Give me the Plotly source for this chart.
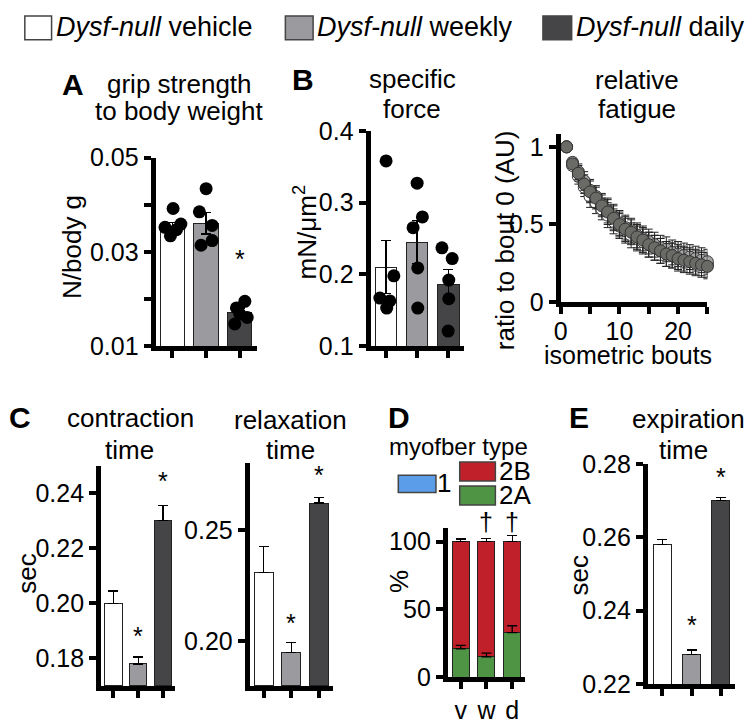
import plotly.graph_objects as go

W, H = 747, 724
FONT = "Liberation Sans, Arial, sans-serif"

# ---- data ----
groups = ["vehicle", "weekly", "daily"]
bar_colors = ["#ffffff", "#9b9b9f", "#454547"]

grip_mean = [0.0351, 0.0361, 0.0171]
grip_sem = [0.0012, 0.0023, 0.0010]
grip_pts = [[0.0392, 0.0359, 0.0352, 0.0334, 0.0347],
            [0.0434, 0.0385, 0.0356, 0.0314, 0.0324],
            [0.0195, 0.0181, 0.0161, 0.0147, 0.0168]]

force_mean = [0.210, 0.245, 0.186]
force_sem = [0.037, 0.030, 0.021]
force_pts = [[0.358, 0.198, 0.167, 0.163, 0.153],
             [0.327, 0.280, 0.265, 0.209, 0.153],
             [0.237, 0.222, 0.192, 0.166, 0.121]]

bouts = list(range(1, 26))
fat_vehicle = [1.0, 0.88, 0.81, 0.74, 0.68, 0.64, 0.60, 0.56, 0.52, 0.49, 0.46, 0.43, 0.41,
               0.39, 0.37, 0.35, 0.33, 0.31, 0.30, 0.29, 0.28, 0.27, 0.26, 0.25, 0.24]
fat_weekly = [1.0, 0.90, 0.84, 0.78, 0.72, 0.68, 0.63, 0.59, 0.55, 0.51, 0.48, 0.46, 0.43,
              0.41, 0.39, 0.37, 0.35, 0.34, 0.32, 0.31, 0.30, 0.29, 0.28, 0.27, 0.26]
fat_daily = [1.0, 0.89, 0.83, 0.76, 0.71, 0.67, 0.62, 0.58, 0.54, 0.50, 0.47, 0.45, 0.42,
             0.40, 0.37, 0.35, 0.33, 0.31, 0.30, 0.28, 0.27, 0.26, 0.25, 0.24, 0.23]
fat_err = [0.0, 0.03, 0.05, 0.06, 0.07, 0.07, 0.07, 0.08, 0.08, 0.08, 0.08, 0.08, 0.08,
           0.08, 0.08, 0.08, 0.08, 0.08, 0.08, 0.08, 0.08, 0.08, 0.08, 0.08, 0.08]

contr_mean = [0.200, 0.178, 0.230]
contr_err = [0.0045, 0.0025, 0.0055]
relax_mean = [0.231, 0.195, 0.262]
relax_err = [0.0115, 0.0045, 0.0025]
expir_mean = [0.258, 0.228, 0.270]
expir_err = [0.0014, 0.0013, 0.0009]

fiber_labels = ["v", "w", "d"]
fiber_1 = [0, 0, 0]
fiber_2A = [21, 15, 33]
fiber_2A_err = [2.5, 2.8, 5.0]
fiber_2B = [79, 85, 67]
fiber_2B_err = [1.8, 2.2, 4.5]

jitter = [[0.02, 0.25, -0.22, -0.06, 0.12],
          [0.0, -0.2, 0.18, -0.15, 0.18],
          [0.15, -0.1, 0.22, -0.15, 0.0]]
force_jitter = [[0.0, 0.25, -0.2, 0.12, 0.02],
                [0.0, 0.17, -0.13, 0.02, 0.02],
                [-0.2, 0.13, 0.02, 0.02, 0.0]]


def dx(a, b):
    return [a / W, b / W]


def dy(top, bottom):
    return [1 - bottom / H, 1 - top / H]


fig = go.Figure()
layout = {}
TICK = dict(ticks="outside", ticklen=7, tickwidth=4, tickcolor="black")


def axis_style(**kw):
    d = dict(showline=True, linewidth=5, linecolor="black", showgrid=False,
             zeroline=False, tickfont=dict(size=25, family=FONT, color="black"), **TICK)
    d.update(kw)
    return d


def add_axes(n, xdom, ydom, yrange, ytickvals, yminor=None, xrange=(-0.5, 2.5),
             xtickvals=(0, 1, 2), xticktext=None, xminor=None, **xkw):
    xs = "xaxis" if n == 1 else "xaxis%d" % n
    ys = "yaxis" if n == 1 else "yaxis%d" % n
    xax = axis_style(domain=xdom, range=list(xrange), anchor="y" if n == 1 else "y%d" % n,
                     tickvals=list(xtickvals), **xkw)
    if xticktext:
        xax["ticktext"] = xticktext
    else:
        xax["showticklabels"] = False
    if xminor:
        xax["minor"] = dict(tickvals=xminor, **TICK)
    yax = axis_style(domain=ydom, range=list(yrange), anchor="x" if n == 1 else "x%d" % n,
                     tickvals=[v for v, _ in ytickvals], ticktext=[t for _, t in ytickvals])
    if yminor:
        yax["minor"] = dict(tickvals=yminor, **TICK)
    layout[xs] = xax
    layout[ys] = yax
    return ("x" if n == 1 else "x%d" % n), ("y" if n == 1 else "y%d" % n)


def bar_panel(n, xdom, ydom, yrange, yticks, means, err, width, symmetric=False, yminor=None):
    xa, ya = add_axes(n, xdom, ydom, yrange, yticks, yminor=yminor)
    ey = dict(type="data", array=err, color="black", thickness=1.3, width=5)
    if not symmetric:
        ey.update(symmetric=False, arrayminus=[0, 0, 0])
    fig.add_trace(go.Bar(x=[0, 1, 2], y=[m - yrange[0] for m in means], base=yrange[0],
                         width=width, marker=dict(color=bar_colors, line=dict(color="#222", width=1)),
                         error_y=ey, xaxis=xa, yaxis=ya, showlegend=False))
    return xa, ya


# A grip strength
xa, ya = bar_panel(1, dx(150, 252), dy(150, 347), [0.01, 0.05],
                   [(0.01, "0.01"), (0.03, "0.03"), (0.05, "0.05")],
                   grip_mean, grip_sem, 0.72, symmetric=True, yminor=[0.02, 0.04])
for i in range(3):
    fig.add_trace(go.Scatter(x=[i + j for j in jitter[i]], y=grip_pts[i], mode="markers",
                             marker=dict(color="black", size=13), cliponaxis=False,
                             xaxis=xa, yaxis=ya, showlegend=False))

# B specific force
xb, yb = bar_panel(2, dx(367, 461), dy(122, 347), [0.1, 0.4],
                   [(0.1, "0.1"), (0.2, "0.2"), (0.3, "0.3"), (0.4, "0.4")],
                   force_mean, force_sem, 0.7, symmetric=True)
for i in range(3):
    fig.add_trace(go.Scatter(x=[i + j for j in force_jitter[i]], y=force_pts[i], mode="markers",
                             marker=dict(color="black", size=13), cliponaxis=False,
                             xaxis=xb, yaxis=yb, showlegend=False))

# relative fatigue
xf, yf = add_axes(3, dx(559, 707), dy(125, 301), [0, 1.085], [(0, "0"), (0.5, "0.5"), (1, "1")],
                  xrange=(0, 25), xtickvals=(0, 10, 20), xticktext=["0", "10", "20"],
                  xminor=[5, 15, 25], ticklabelstandoff=-4)
for vals, col in [(fat_vehicle, "#ffffff"), (fat_weekly, "#a5a5a5"), (fat_daily, "#6a6a66")]:
    fig.add_trace(go.Scatter(x=bouts, y=vals, mode="markers", cliponaxis=False,
                             marker=dict(color=col, size=12, line=dict(color="#333", width=1)),
                             error_y=dict(type="data", array=fat_err, color="#222", thickness=1, width=4),
                             xaxis=xf, yaxis=yf, showlegend=False))

# C contraction / relaxation
xc, yc = bar_panel(4, dx(95, 170), dy(472, 702), [0.17, 0.25],
                   [(0.18, "0.18"), (0.20, "0.20"), (0.22, "0.22"), (0.24, "0.24")],
                   contr_mean, contr_err, 0.7)
xr, yr = bar_panel(5, dx(245, 329), dy(469, 702), [0.18, 0.28],
                   [(0.20, "0.20"), (0.25, "0.25")], relax_mean, relax_err, 0.68)

# D myofiber type
xd, yd = add_axes(6, dx(445, 523), dy(537, 693), [0, 110], [(0, "0"), (50, "50"), (100, "100")],
                  xticktext=fiber_labels)
fig.add_trace(go.Bar(x=[0, 1, 2], y=fiber_1, width=0.66, marker=dict(color="#5b9de8", line=dict(width=0)),
                     xaxis=xd, yaxis=yd, showlegend=False))
fig.add_trace(go.Bar(x=[0, 1, 2], y=fiber_2A, width=0.66,
                     marker=dict(color="#4f9445", line=dict(color="#222", width=1)),
                     xaxis=xd, yaxis=yd, showlegend=False))
fig.add_trace(go.Bar(x=[0, 1, 2], y=fiber_2B, width=0.66,
                     marker=dict(color="#c0202a", line=dict(color="#222", width=1)),
                     error_y=dict(type="data", array=fiber_2B_err, symmetric=False, arrayminus=[0, 0, 0],
                                  color="black", thickness=1.3, width=5),
                     xaxis=xd, yaxis=yd, showlegend=False))
# 2A error bars drawn on top of the stacked red bars
fig.add_trace(go.Scatter(x=[0, 1, 2], y=fiber_2A, mode="markers", marker=dict(size=1, opacity=0),
                         error_y=dict(type="data", array=fiber_2A_err, symmetric=False, arrayminus=[0, 0, 0],
                                      color="black", thickness=1.3, width=5),
                         xaxis=xd, yaxis=yd, showlegend=False, hoverinfo="skip"))

# E expiration
xe, ye = bar_panel(7, dx(647, 735), dy(470, 700), [0.22, 0.28],
                   [(0.22, "0.22"), (0.24, "0.24"), (0.26, "0.26"), (0.28, "0.28")],
                   expir_mean, expir_err, 0.63)

anns = []


def txt(t, x, y, size=26, bold=False, angle=0, anchor="center"):
    anns.append(dict(text="<b>%s</b>" % t if bold else t, x=x / W, y=1 - y / H, xref="paper", yref="paper",
                     showarrow=False, textangle=angle, xanchor=anchor, yanchor="middle",
                     font=dict(size=size, family=FONT, color="black")))


def star(t, xa_, ya_, x, y, size=25):
    anns.append(dict(text=t, x=x, y=y, xref=xa_, yref=ya_, showarrow=False, yanchor="middle",
                     font=dict(size=size, family=FONT, color="black")))


# panel titles
txt("A", 67, 74, 30, bold=True)
txt("grip strength", 174, 73)
txt("to body weight", 174, 101)
txt("B", 299, 68, 30, bold=True)
txt("specific", 409, 68)
txt("force", 409, 99)
txt("relative", 636, 69)
txt("fatigue", 636, 99)
txt("N/body g", 65, 243, angle=-90)
txt("mN/μm<sup>2</sup>", 301, 228, angle=-90)
txt("ratio to bout 0 (AU)", 503, 236, angle=-90)
txt("isometric bouts", 627, 356, 25)

txt("C", 13, 422, 30, bold=True)
txt("contraction", 125, 422)
txt("time", 124, 455)
txt("relaxation", 286, 424)
txt("time", 286, 455)
txt("sec", 20, 585, angle=-90)
txt("D", 396, 422, 30, bold=True)
txt("myofber type", 456, 452, 24)
txt("1", 441, 490)
txt("2B", 495, 477, anchor="left")
txt("2A", 495, 502, anchor="left")
txt("%", 395, 593, angle=-90)
txt("E", 577, 422, 30, bold=True)
txt("expiration", 688, 423)
txt("time", 683, 455)
txt("sec", 577, 587, angle=-90)

# top legend
txt("<i>Dysf-null</i> vehicle", 47, 14, 27, anchor="left")
txt("<i>Dysf-null</i> weekly", 311, 14, 27, anchor="left")
txt("<i>Dysf-null</i> daily", 572, 14, 27, anchor="left")

# significance marks
star("*", xa, ya, 2, 0.0285)
star("*", xc, yc, 1, 0.188)
star("*", xc, yc, 2, 0.2445)
star("*", xr, yr, 1, 0.208)
star("*", xr, yr, 2, 0.2745)
star("*", xe, ye, 1, 0.236)
star("*", xe, ye, 2, 0.2765)
for k in (1, 2):
    anns.append(dict(text="†", x=k, y=1 - 531 / H, xref=xd, yref="paper", showarrow=False,
                     yanchor="middle", font=dict(size=25, family=FONT, color="black")))

shapes = []


def box(x0, y0, x1, y1, color):
    shapes.append(dict(type="rect", xref="paper", yref="paper", x0=x0 / W, x1=x1 / W,
                       y0=1 - y1 / H, y1=1 - y0 / H, fillcolor=color,
                       line=dict(color="#444", width=1.5)))


box(18, 2, 45, 27, "#ffffff")
box(281, 2, 309, 27, "#9b9b9f")
box(541, 2, 570, 27, "#454547")
box(395, 482, 433, 500, "#5b9de8")
box(457, 468, 493, 488, "#c0202a")
box(457, 493, 493, 513, "#4f9445")

fig.update_layout(**layout)
fig.update_layout(width=W, height=H, margin=dict(l=0, r=0, t=0, b=0),
                  plot_bgcolor="white", paper_bgcolor="white", barmode="stack",
                  annotations=anns, shapes=shapes, font=dict(family=FONT, color="black"))

fig.write_html("out.html", config={"displayModeBar": False},
               post_script="document.body.style.margin='0';")
